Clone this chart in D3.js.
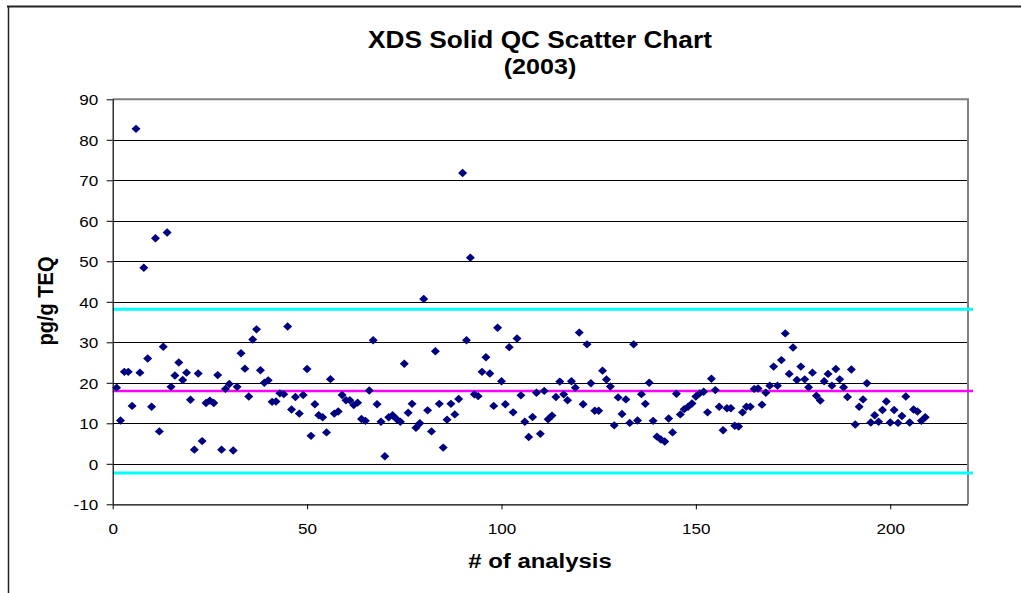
<!DOCTYPE html>
<html>
<head>
<meta charset="utf-8">
<script src="https://cdn.jsdelivr.net/npm/d3@7"></script>
<style>
  html, body { margin: 0; padding: 0; background: #fff; }
  svg { display: block; font-family: "Liberation Sans", Arial, sans-serif; }
</style>
</head>
<body>
<svg id="chart" width="1021" height="593"></svg>
<script>
// ---- data ----
const titleLines = ["XDS Solid QC Scatter Chart", "(2003)"];
const xLabel = "# of analysis";
const yLabel = "pg/g TEQ";
const xTicks = [0, 50, 100, 150, 200];
const yTicks = [-10, 0, 10, 20, 30, 40, 50, 60, 70, 80, 90];
const xDomain = [0, 220];
const yDomain = [-10, 90];
// control lines: upper limit, mean, lower limit
const upperLimit = 38.15;
const meanLine = 17.95;
const lowerLimit = -2.25;
// QC results, analysis #1 .. #209
const qcValues = [
  18.8, 10.7, 22.7, 22.7, 14.3, 82.7, 22.5, 48.4, 26.0, 14.1,
  55.7, 8.0, 28.9, 57.1, 19.0, 21.8, 25.0, 20.7, 22.5, 15.8,
  3.5, 22.3, 5.6, 15.0, 15.6, 15.0, 21.9, 3.5, 18.5, 19.7,
  3.3, 19.0, 27.3, 23.5, 16.6, 30.7, 33.2, 23.1, 20.0, 20.6,
  15.3, 15.4, 17.4, 17.2, 33.9, 13.4, 16.5, 12.4, 17.0, 23.4,
  6.9, 14.7, 12.0, 11.5, 7.75, 20.9, 12.4, 12.9, 17.0, 15.7,
  15.7, 14.5, 15.1, 11.05, 10.6, 18.1, 30.5, 14.7, 10.4, 1.85,
  11.5, 12.0, 11.05, 10.4, 24.7, 12.6, 14.8, 8.9, 10.0, 40.7,
  13.2, 8.0, 27.8, 14.8, 4.0, 10.9, 14.8, 12.2, 16.0, 71.8,
  30.5, 50.9, 17.15, 16.7, 22.7, 26.3, 22.3, 14.3, 33.6, 20.4,
  14.7, 28.8, 12.7, 30.95, 16.9, 10.4, 6.6, 11.55, 17.55, 7.4,
  18.0, 11.0, 11.9, 16.5, 20.3, 17.15, 15.7, 20.4, 18.8, 32.4,
  14.7, 29.5, 19.9, 13.1, 13.1, 23.0, 20.8, 19.1, 9.5, 16.4,
  12.3, 15.9, 10.1, 29.5, 10.7, 17.2, 14.8, 20.0, 10.6, 6.7,
  6.0, 5.5, 11.2, 7.75, 17.3, 12.2, 13.5, 14.1, 14.9, 16.6,
  17.4, 17.8, 12.7, 21.0, 18.2, 14.1, 8.3, 13.7, 13.7, 9.4,
  9.2, 12.7, 14.1, 14.1, 18.5, 18.6, 14.6, 17.55, 19.3, 24.0,
  19.3, 25.6, 32.2, 22.2, 28.7, 20.7, 24.0, 20.85, 18.9, 22.5,
  16.8, 15.6, 20.4, 22.2, 19.3, 23.4, 20.85, 18.9, 16.5, 23.3,
  9.7, 14.1, 15.9, 19.9, 10.2, 12.0, 10.4, 13.3, 15.4, 10.2,
  13.3, 10.1, 11.8, 16.6, 10.2, 13.4, 12.9, 10.6, 11.5
];

// ---- layout ----
const svg = d3.select("#chart");
const W = 1021, H = 593;
const plot = { left: 112.7, right: 968, top: 99.3, bottom: 504.3 };
const SX = 1.14; // horizontal stretch of text in the reference

const x = d3.scaleLinear().domain(xDomain).range([plot.left, plot.right]);
const y = d3.scaleLinear().domain(yDomain).range([plot.bottom, plot.top]);
const snap = v => Math.round(v) + 0.5;

// outer frame (top + left visible)
svg.append("line").attr("x1", 7).attr("x2", W).attr("y1", 6.5).attr("y2", 6.5)
  .attr("stroke", "#222").attr("stroke-width", 2);
svg.append("line").attr("x1", 8.5).attr("x2", 8.5).attr("y1", 6).attr("y2", H)
  .attr("stroke", "#222").attr("stroke-width", 1.5);

// gridlines
svg.append("g").selectAll("line").data(yTicks.filter(t => t > yDomain[0] && t < yDomain[1]))
  .join("line")
  .attr("x1", plot.left).attr("x2", plot.right)
  .attr("y1", d => snap(y(d))).attr("y2", d => snap(y(d)))
  .attr("stroke", "#000").attr("stroke-width", 1);

// plot area border (top & right, grey)
svg.append("path")
  .attr("d", `M${plot.left},${y(yDomain[1])}H${x(xDomain[1])}V${plot.bottom}`)
  .attr("fill", "none").attr("stroke", "#808080").attr("stroke-width", 2);

// control lines
const ctrl = [
  { v: upperLimit, c: "#00FFFF", w: 3 },
  { v: lowerLimit, c: "#00FFFF", w: 3 },
  { v: meanLine, c: "#FF00FF", w: 2.5 }
];
svg.append("g").selectAll("line").data(ctrl).join("line")
  .attr("x1", plot.left).attr("x2", x(xDomain[1]) + 5)
  .attr("y1", d => y(d.v)).attr("y2", d => y(d.v))
  .attr("stroke", d => d.c).attr("stroke-width", d => d.w);

// axes
const fmt = d => String(d);
const yAxis = svg.append("g").attr("transform", `translate(${plot.left},0)`)
  .call(d3.axisLeft(y).tickValues(yTicks).tickSize(6).tickPadding(0).tickFormat(fmt));
const xAxis = svg.append("g").attr("transform", `translate(0,${plot.bottom})`)
  .call(d3.axisBottom(x).tickValues(xTicks).tickSize(5).tickPadding(0).tickFormat(fmt));
[yAxis, xAxis].forEach(g => {
  g.select(".domain").attr("stroke", "#000").attr("stroke-width", 1.2);
  g.selectAll(".tick line").attr("stroke", "#000");
  g.selectAll("text").attr("font-family", "'Liberation Sans', Arial, sans-serif")
    .attr("font-size", 15).attr("fill", "#000");
});
yAxis.select(".domain").attr("d", `M0.5,${plot.bottom}V${plot.top}`);
xAxis.select(".domain").attr("d", `M${plot.left},0.5H${plot.right}`);
yAxis.selectAll(".tick text").attr("x", null).attr("dy", "0.35em")
  .attr("transform", `translate(-14.5,0) scale(${SX},1)`);
xAxis.selectAll(".tick text").attr("y", null).attr("dy", null)
  .attr("transform", `translate(0,30) scale(${SX},1)`);

// points (diamonds)
const diamond = "M0,-4.2L4.5,0L0,4.2L-4.5,0Z";
svg.append("g").selectAll("path").data(qcValues).join("path")
  .attr("d", diamond)
  .attr("transform", (d, i) => `translate(${x(i + 1)},${y(d)})`)
  .attr("fill", "#000080");

// titles
const bold = g => g.attr("font-weight", "bold").attr("fill", "#000").attr("text-anchor", "middle");
svg.append("text").call(bold).attr("font-size", 23)
  .attr("transform", `translate(540,48) scale(${SX},1)`).text(titleLines[0]);
svg.append("text").call(bold).attr("font-size", 22)
  .attr("transform", `translate(540,74) scale(${SX},1)`).text(titleLines[1]);
svg.append("text").call(bold).attr("font-size", 21)
  .attr("transform", `translate(540,568) scale(${SX},1)`).text(xLabel);
svg.append("text").call(bold).attr("font-size", 20)
  .attr("transform", `translate(53,301) scale(${SX},1) rotate(-90)`).text(yLabel);
</script>
</body>
</html>
